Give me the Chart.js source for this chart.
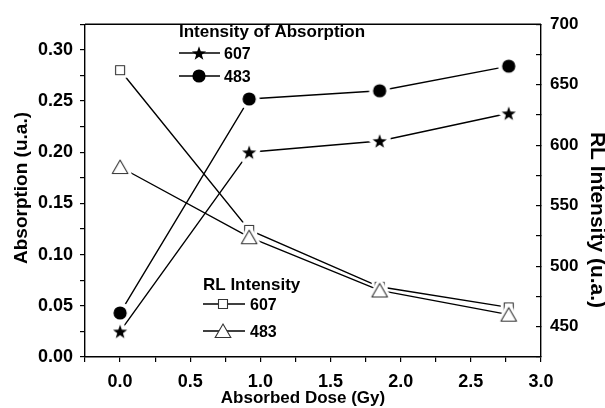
<!DOCTYPE html>
<html>
<head>
<meta charset="utf-8">
<script src="https://cdn.jsdelivr.net/npm/chart.js@4.4.1/dist/chart.umd.min.js"></script>
<style>
html, body { margin: 0; padding: 0; background: #fff; }
canvas { display: block; }
</style>
</head>
<body>
<canvas id="grafica" width="605" height="408"></canvas>
<script>
// valores
const dosis = [0, 0.92, 1.85, 2.77];
const abs607 = [0.025, 0.200, 0.211, 0.238];
const abs483 = [0.043, 0.252, 0.260, 0.284];
const rl607 = [662, 530, 483, 466];
const rl483 = [582, 524, 480, 460];

// etiquetas de los ejes
const etiquetasX = [0.0, 0.5, 1.0, 1.5, 2.0, 2.5, 3.0];
const etiquetasAbs = [0.00, 0.05, 0.10, 0.15, 0.20, 0.25, 0.30];
const etiquetasRL = [450, 500, 550, 600, 650, 700];
const series = ['607', '483'];

const FUENTE = "'Liberation Sans', Arial, sans-serif";

const marcador = (tipo, halo) => {
    const c = document.createElement('canvas');
    c.width = 30;
    c.height = 30;
    const g = c.getContext('2d');
    g.translate(15, 15);
    g.beginPath();
    if (tipo === 'estrella') {
        for (let i = 0; i < 10; i++) {
            const r = i % 2 ? 3.0 : 7.4;
            const a = -Math.PI / 2 + i * Math.PI / 5;
            g.lineTo(r * Math.cos(a), r * Math.sin(a) + 0.7);
        }
        g.closePath();
    } else if (tipo === 'circulo') {
        g.arc(0, 0, 6.6, 0, 2 * Math.PI);
    } else if (tipo === 'cuadro') {
        g.rect(-4.5, -4.5, 9, 9);
    } else {
        g.moveTo(0, -7);
        g.lineTo(7.8, 6.5);
        g.lineTo(-7.8, 6.5);
        g.closePath();
    }
    if (halo) {
        g.strokeStyle = '#fff';
        g.lineWidth = halo * 2;
        g.lineJoin = 'round';
        g.stroke();
    }
    if (tipo === 'estrella' || tipo === 'circulo') {
        g.fillStyle = '#000';
        g.fill();
    } else {
        g.fillStyle = '#fff';
        g.fill();
        g.strokeStyle = '#333';
        g.lineWidth = 1.1;
        g.stroke();
    }
    return c;
};

const estrella = marcador('estrella', 4);
const circulo = marcador('circulo', 4);
const cuadro = marcador('cuadro', 3.5);
const triangulo = marcador('triangulo', 3.5);

const puntos = (xs, ys) => xs.map((x, i) => ({ x: x, y: ys[i] }));
const casi = (lista, v) => lista.some(e => Math.abs(e - v) < 1e-6);

const serie = (datos, eje, estilo) => ({
    data: datos,
    yAxisID: eje,
    borderColor: '#000',
    borderWidth: 1.4,
    pointStyle: estilo,
    pointRadius: 7,
    pointHoverRadius: 7,
    fill: false,
    tension: 0
});

const extras = {
    id: 'extras',
    afterDatasetsDraw(chart) {
        const { ctx, chartArea: a } = chart;
        ctx.save();
        // linea superior del marco
        ctx.strokeStyle = '#000';
        ctx.lineWidth = 1.4;
        ctx.beginPath();
        ctx.moveTo(a.left, a.top);
        ctx.lineTo(a.right, a.top);
        ctx.stroke();

        ctx.fillStyle = '#000';
        ctx.textBaseline = 'alphabetic';
        ctx.textAlign = 'left';

        // leyenda de absorcion
        ctx.font = 'bold 17px ' + FUENTE;
        ctx.fillText('Intensity of Absorption', 179, 37);
        const filaAbs = [[53, marcador('estrella', 0)], [76, marcador('circulo', 0)]];
        filaAbs.forEach((f, i) => {
            ctx.lineWidth = 1.4;
            ctx.beginPath();
            ctx.moveTo(179, f[0]);
            ctx.lineTo(220, f[0]);
            ctx.stroke();
            ctx.drawImage(f[1], 199 - 15, f[0] - 15);
            ctx.font = 'bold 16px ' + FUENTE;
            ctx.fillText(series[i], 224, f[0] + 6);
        });

        // leyenda RL
        ctx.font = 'bold 17px ' + FUENTE;
        ctx.fillText('RL Intensity', 203, 290);
        const filaRL = [[304, marcador('cuadro', 0)], [331, marcador('triangulo', 0)]];
        filaRL.forEach((f, i) => {
            ctx.lineWidth = 1.4;
            ctx.beginPath();
            ctx.moveTo(203, f[0]);
            ctx.lineTo(245, f[0]);
            ctx.stroke();
            ctx.drawImage(f[1], 223 - 15, f[0] - 15);
            ctx.font = 'bold 16px ' + FUENTE;
            ctx.fillText(series[i], 250, f[0] + 6);
        });

        // titulos de los ejes
        ctx.textAlign = 'center';
        ctx.textBaseline = 'middle';
        ctx.font = 'bold 17px ' + FUENTE;
        ctx.fillText('Absorbed Dose (Gy)', 303, 398);

        ctx.save();
        ctx.translate(22, 188);
        ctx.rotate(-Math.PI / 2);
        ctx.font = 'bold 19px ' + FUENTE;
        ctx.fillText('Absorption (u.a.)', 0, 0);
        ctx.restore();

        ctx.save();
        ctx.translate(597, 220);
        ctx.rotate(Math.PI / 2);
        ctx.font = 'bold 21px ' + FUENTE;
        ctx.fillText('RL Intensity (u.a.)', 0, 0);
        ctx.restore();

        ctx.restore();
    }
};

Chart.defaults.font.family = FUENTE;
Chart.defaults.font.weight = 'bold';
Chart.defaults.color = '#000';

const ejeGrid = (largo) => ({
    drawOnChartArea: false,
    tickLength: largo,
    color: '#000',
    lineWidth: 1.2
});
const borde = { color: '#000', width: 1.4 };

var ctx = document.getElementById('grafica').getContext('2d');
var grafica = new Chart(ctx, {
    type: 'line',
    data: {
        datasets: [
            serie(puntos(dosis, abs607), 'y', estrella),
            serie(puntos(dosis, abs483), 'y', circulo),
            serie(puntos(dosis, rl483), 'y2', triangulo),
            serie(puntos(dosis, rl607), 'y2', cuadro)
        ]
    },
    options: {
        responsive: false,
        animation: false,
        layout: { padding: { top: 20, left: 0, right: 0, bottom: 0 } },
        plugins: {
            legend: { display: false },
            tooltip: { enabled: false }
        },
        scales: {
            x: {
                type: 'linear',
                position: 'bottom',
                min: -0.25,
                max: 3,
                afterFit: s => { s.height = 51; },
                grid: ejeGrid(5),
                border: borde,
                ticks: {
                    stepSize: 0.25,
                    autoSkip: false,
                    maxRotation: 0,
                    padding: 9,
                    font: { size: 18, weight: 'bold' },
                    callback: v => casi(etiquetasX, v) ? v.toFixed(1) : ''
                }
            },
            y: {
                type: 'linear',
                position: 'left',
                min: 0,
                max: 0.325,
                afterFit: s => { s.width = 85; },
                grid: ejeGrid(5),
                border: borde,
                ticks: {
                    stepSize: 0.025,
                    autoSkip: false,
                    padding: 7,
                    font: { size: 18, weight: 'bold' },
                    callback: v => casi(etiquetasAbs, v) ? v.toFixed(2) : ''
                }
            },
            y2: {
                type: 'linear',
                position: 'right',
                min: 425,
                max: 700,
                afterFit: s => { s.width = 64; },
                grid: ejeGrid(-5),
                border: borde,
                ticks: {
                    stepSize: 25,
                    autoSkip: false,
                    padding: 14,
                    font: { size: 17, weight: 'bold' },
                    callback: v => casi(etiquetasRL, v) ? String(v) : ''
                }
            }
        }
    },
    plugins: [extras]
});
</script>
</body>
</html>
